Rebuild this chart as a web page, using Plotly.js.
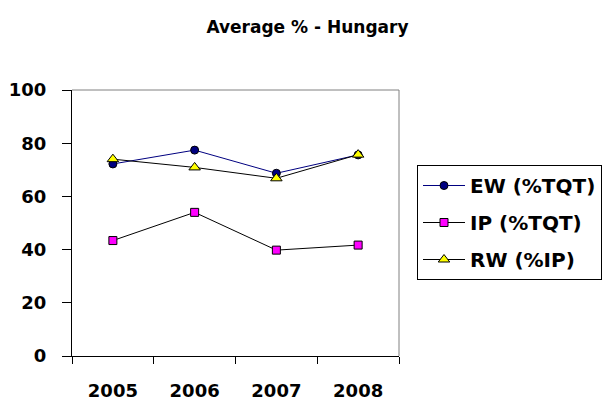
<!DOCTYPE html>
<html>
<head>
<meta charset="utf-8">
<script src="https://cdn.plot.ly/plotly-3.0.1.min.js"></script>
<style>html,body{margin:0;padding:0;background:#fff;}#chart{width:616px;height:403px;}</style>
</head>
<body>
<div id="chart"></div>
<script>
const years = ["2005", "2006", "2007", "2008"];
const ewValues = [72.2, 77.4, 68.7, 75.6];
const ipValues = [43.4, 54.0, 39.8, 41.7];
const rwValues = [74.0, 70.9, 66.8, 75.7];
const seriesNames = ["EW (%TQT)", "IP (%TQT)", "RW (%IP)"];
const chartTitle = "Average % - Hungary";

const FONT = "DejaVu Sans, Arial, sans-serif";

const traces = [
  {x: years, y: ewValues, name: "<b>" + seriesNames[0] + "</b>", type: "scatter", mode: "lines+markers",
   line: {color: "#000080", width: 1},
   marker: {symbol: "circle", size: 8, color: "#000080", line: {color: "#000000", width: 1}},
   legendgroup: "a"},
  {x: years, y: ipValues, name: "<b>" + seriesNames[1] + "</b>", type: "scatter", mode: "lines+markers",
   line: {color: "#000000", width: 1},
   marker: {symbol: "square", size: 8, color: "#FF00FF", line: {color: "#000000", width: 1}},
   legendgroup: "b"},
  {x: years, y: rwValues, name: "<b>" + seriesNames[2] + "</b>", type: "scatter", mode: "lines+markers",
   line: {color: "#000000", width: 1},
   marker: {symbol: "triangle-up", size: 10, color: "#FFFF00", line: {color: "#000000", width: 1}},
   legendgroup: "c"}
];

const layout = {
  width: 616, height: 403,
  margin: {l: 72, r: 217, t: 90, b: 47},
  paper_bgcolor: "#ffffff", plot_bgcolor: "#ffffff",
  font: {family: FONT, color: "#000000"},
  title: {text: "<b>" + chartTitle + "</b>", font: {family: FONT, size: 17, color: "#000"},
          x: 307.5/616, xanchor: "center", y: 1 - 27/403, yanchor: "middle"},
  xaxis: {type: "category", range: [-0.5, 3.5], tickson: "boundaries", ticks: "outside", ticklen: 7,
          tickcolor: "#000", showline: true, linecolor: "#000", linewidth: 1, showgrid: false, zeroline: false,
          tickfont: {family: FONT, size: 18, weight: "bold"}, ticklabelstandoff: 18, fixedrange: true},
  yaxis: {range: [0, 100], dtick: 20, ticks: "outside", ticklen: 9, tickcolor: "#000",
          showline: true, linecolor: "#000", linewidth: 1, showgrid: false, zeroline: false,
          tickfont: {family: FONT, size: 18, weight: "bold"}, ticklabelstandoff: 12, fixedrange: true},
  shapes: [
    {type: "line", xref: "paper", yref: "paper", x0: 0, x1: 1, y0: 1, y1: 1, line: {color: "#808080", width: 1}, layer: "below"},
    {type: "line", xref: "paper", yref: "paper", x0: 1, x1: 1, y0: 0, y1: 1, line: {color: "#808080", width: 1}, layer: "below"}
  ],
  showlegend: true,
  legend: {x: (417 - 72) / 327, xanchor: "left", y: (356 - 165) / 266, yanchor: "top",
           bordercolor: "#000", borderwidth: 1, bgcolor: "#fff",
           font: {family: FONT, size: 20}, tracegroupgap: 8, itemwidth: 42}
};

Plotly.newPlot("chart", traces, layout, {staticPlot: true, displayModeBar: false});
</script>
</body>
</html>
